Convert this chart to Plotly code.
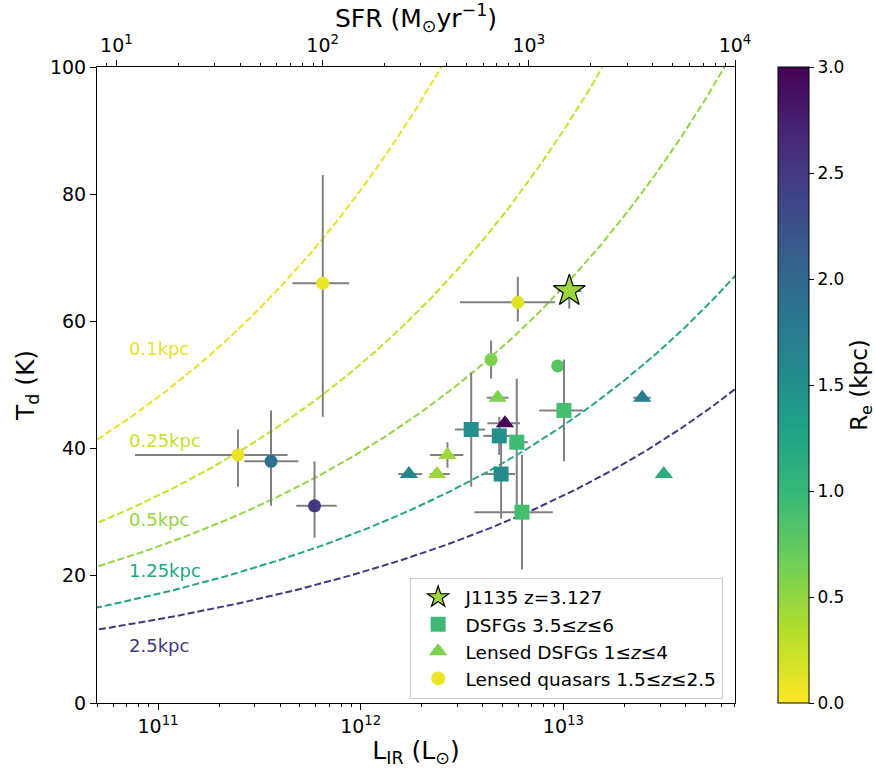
import numpy as np
import plotly.graph_objects as go
from plotly.colors import sample_colorscale

# ---------------- data ----------------
# Lensed quasars (circles)
qso_L = [6.50e11, 2.48e11, 3.61e11, 5.92e11, 5.96e12, 4.40e12, 9.38e12]
qso_L_lo = [4.61e11, 7.7e10, 2.67e11, 4.81e11, 3.09e12, 4.40e12, 9.38e12]
qso_L_hi = [8.77e11, 4.36e11, 4.93e11, 7.62e11, 9.10e12, 4.40e12, 9.38e12]
qso_T = [66, 39, 38, 31, 63, 54, 53]
qso_T_lo = [45, 34, 31, 26, 60, 51, 53]
qso_T_hi = [83, 43, 46, 38, 67, 57, 53]
qso_R = [0.08, 0.08, 1.9, 2.5, 0.15, 0.6, 0.8]

# DSFGs 3.5<=z<=6 (squares)
dsfg_L = [3.51e12, 4.83e12, 4.93e12, 5.89e12, 6.25e12, 1.007e13]
dsfg_L_lo = [2.92e12, 4.03e12, 4.03e12, 5.42e12, 3.64e12, 7.6e12]
dsfg_L_hi = [4.11e12, 5.75e12, 5.78e12, 6.67e12, 8.87e12, 1.25e13]
dsfg_T = [43, 42, 36, 41, 30, 46]
dsfg_T_lo = [34, 39, 29, 31, 21, 38]
dsfg_T_hi = [52, 45, 43, 51, 39, 54]
dsfg_R = [1.5, 1.5, 1.55, 0.95, 0.9, 0.9]

# Lensed DSFGs 1<=z<=4 (triangles)
ldsfg_L = [1.73e12, 2.38e12, 2.68e12, 4.74e12, 5.15e12, 2.45e13, 3.13e13]
ldsfg_L_lo = [1.53e12, 2.20e12, 2.20e12, 4.19e12, 4.22e12, 2.21e13, 2.92e13]
ldsfg_L_hi = [2.01e12, 2.76e12, 3.21e12, 5.36e12, 6.11e12, 2.70e13, 3.36e13]
ldsfg_T = [36, 36, 39, 48, 44, 48, 36]
ldsfg_T_lo = [36, 36, 37, 48, 44, 48, 36]
ldsfg_T_hi = [36, 36, 41, 48, 44, 48, 36]
ldsfg_R = [1.6, 0.45, 0.45, 0.6, 2.95, 1.75, 1.1]

# J1135 (star)
j_L = [1.07e13]
j_L_lo = [9.4e12]
j_L_hi = [1.23e13]
j_T = [64.8]
j_T_lo = [62.0]
j_T_hi = [67.3]
j_R = [0.45]

# legend
legend_names = ["J1135 z=3.127", "DSFGs 3.5≤<i>z</i>≤6",
                "Lensed DSFGs 1≤<i>z</i>≤4", "Lensed quasars 1.5≤<i>z</i>≤2.5"]
legend_R = [0.45, 0.95, 0.6, 0.08]

# model curves (constant size)
curve_R = [0.1, 0.25, 0.5, 1.25, 2.5]
curve_labels = ["0.1kpc", "0.25kpc", "0.5kpc", "1.25kpc", "2.5kpc"]
label_T = [55.8, 41.2, 28.9, 20.8, 9.0]
label_L = 7.05e10

# greybody model parameters
beta = 1.5
nu0 = 3.0e12
L_ref, R_ref, T_ref = 5.0e10, 0.1, 41.4

x_range = [np.log10(5.0e10), np.log10(7.03e13)]
x2_range = [np.log10(8.05), 4.0]

cscale = "Viridis"
rmin, rmax = 0.0, 3.0


def rcolor(r):
    return sample_colorscale(cscale, [1 - (r - rmin) / (rmax - rmin)])[0]


def greybody_I(T):
    nu = np.logspace(10, 15, 4000)
    hk = 4.799243e-11
    tau = (nu / nu0) ** beta
    T = np.atleast_1d(T)[:, None]
    x = np.clip(hk * nu[None, :] / T, 1e-8, 700)
    integrand = (1 - np.exp(-tau[None, :])) * nu[None, :] ** 3 / np.expm1(x)
    return np.trapezoid(integrand, nu, axis=1)


FONT = "DejaVu Sans"
fig = go.Figure()

T_grid = np.linspace(5, 130, 600)
I_grid = greybody_I(T_grid)
I_ref = greybody_I(T_ref)[0]
for R, lab, lt in zip(curve_R, curve_labels, label_T):
    col = rcolor(R)
    Lc = L_ref * (R / R_ref) ** 2 * I_grid / I_ref
    fig.add_trace(go.Scatter(x=Lc, y=T_grid, mode="lines",
                             line=dict(color=col, width=2, dash="7px,3px"),
                             showlegend=False, hoverinfo="skip"))
    fig.add_annotation(x=np.log10(label_L), y=lt, text=lab, showarrow=False,
                       xanchor="left", yanchor="middle",
                       font=dict(family=FONT, size=18, color=col))


def add_series(L, Llo, Lhi, T, Tlo, Thi, R, symbol, size, line=None):
    L = np.array(L); T = np.array(T)
    fig.add_trace(go.Scatter(
        x=L, y=T, mode="markers",
        marker=dict(symbol=symbol, size=size, color=R, coloraxis="coloraxis",
                    line=line or dict(width=0)),
        error_x=dict(type="data", symmetric=False, array=np.array(Lhi) - L,
                     arrayminus=L - np.array(Llo), color="#808080", thickness=2, width=0),
        error_y=dict(type="data", symmetric=False, array=np.array(Thi) - T,
                     arrayminus=T - np.array(Tlo), color="#808080", thickness=2, width=0),
        showlegend=False, hoverinfo="skip"))


add_series(qso_L, qso_L_lo, qso_L_hi, qso_T, qso_T_lo, qso_T_hi, qso_R, "circle", 13)
add_series(dsfg_L, dsfg_L_lo, dsfg_L_hi, dsfg_T, dsfg_T_lo, dsfg_T_hi, dsfg_R, "square", 15)
add_series(ldsfg_L, ldsfg_L_lo, ldsfg_L_hi, ldsfg_T, ldsfg_T_lo, ldsfg_T_hi, ldsfg_R, "triangle-up", 16)
add_series(j_L, j_L_lo, j_L_hi, j_T, j_T_lo, j_T_hi, j_R, "star", 24, line=dict(color="black", width=1.2))

# legend entries
leg_sym = ["star", "square", "triangle-up", "circle"]
leg_size = [23, 15, 16, 14]
leg_line = [dict(color="black", width=1.2), dict(width=0), dict(width=0), dict(width=0)]
for name, sym, r, sz, ln in zip(legend_names, leg_sym, legend_R, leg_size, leg_line):
    fig.add_trace(go.Scatter(x=[None], y=[None], mode="markers", name=name, legendgroup=name,
                             marker=dict(symbol=sym, size=sz, color=rcolor(r), line=ln)))

# invisible trace for top axis
fig.add_trace(go.Scatter(x=[10 ** x2_range[0], 10 ** x2_range[1]], y=[None, None],
                         xaxis="x2", mode="markers", showlegend=False, hoverinfo="skip"))

maj_b = [1e11, 1e12, 1e13]
min_b = [m * 10 ** e for e in range(10, 14) for m in range(2, 10)
         if x_range[0] <= np.log10(m * 10 ** e) <= x_range[1]]
maj_t = [1e1, 1e2, 1e3, 1e4]
min_t = [m * 10 ** e for e in range(0, 4) for m in range(2, 10)
         if x2_range[0] <= np.log10(m * 10 ** e) <= x2_range[1]]

tickfont = dict(family=FONT, size=19, color="black")
titlefont = dict(family=FONT, size=25, color="black")

fig.update_layout(
    width=876, height=768,
    margin=dict(l=97, r=141, t=67, b=65, autoexpand=False),
    paper_bgcolor="white", plot_bgcolor="white",
    font=dict(family=FONT, color="black"),
    xaxis=dict(type="log", range=x_range, showline=True, linecolor="black", linewidth=1,
               ticks="outside", ticklen=6, tickcolor="black", showgrid=False, zeroline=False,
               tickvals=maj_b, ticktext=["10<sup>11</sup>", "10<sup>12</sup>", "10<sup>13</sup>"],
               minor=dict(tickvals=min_b, ticks="outside", ticklen=3, tickcolor="black", showgrid=False),
               tickfont=tickfont,
               title=dict(text="L<sub>IR</sub> (L<sub>⊙</sub>)", font=titlefont, standoff=4)),
    xaxis2=dict(type="log", range=x2_range, overlaying="x", side="top", anchor="y",
                showline=True, linecolor="black", linewidth=1,
                ticks="outside", ticklen=6, tickcolor="black", showgrid=False, zeroline=False,
                tickvals=maj_t, ticktext=["10<sup>1</sup>", "10<sup>2</sup>", "10<sup>3</sup>", "10<sup>4</sup>"],
                minor=dict(tickvals=min_t, ticks="outside", ticklen=3, tickcolor="black", showgrid=False),
                tickfont=tickfont,
                title=dict(text="SFR (M<sub>⊙</sub>yr<sup>−1</sup>)", font=titlefont, standoff=2)),
    yaxis=dict(range=[0, 100], showline=True, mirror=True, linecolor="black", linewidth=1,
               ticks="outside", ticklen=6, tickcolor="black", showgrid=False, zeroline=False,
               tickvals=[0, 20, 40, 60, 80, 100], tickfont=tickfont,
               title=dict(text="T<sub>d</sub> (K)", font=titlefont, standoff=8)),
    coloraxis=dict(colorscale=cscale, reversescale=True, cmin=rmin, cmax=rmax,
                   colorbar=dict(x=1.067, xanchor="left", xpad=0, ypad=0, y=0.5, yanchor="middle",
                                 len=1, lenmode="fraction", thickness=31, thicknessmode="pixels",
                                 outlinewidth=1, outlinecolor="black",
                                 ticks="outside", ticklen=5, tickcolor="black",
                                 tickvals=[0, 0.5, 1, 1.5, 2, 2.5, 3],
                                 ticktext=["0.0", "0.5", "1.0", "1.5", "2.0", "2.5", "3.0"],
                                 tickfont=dict(family=FONT, size=17, color="black"),
                                 title=dict(text="R<sub>e</sub> (kpc)", side="right",
                                            font=dict(family=FONT, size=23, color="black")))),
    legend=dict(x=0.49, y=0.197, xanchor="left", yanchor="top",
                bgcolor="rgba(255,255,255,0.9)", bordercolor="#cccccc", borderwidth=1,
                font=dict(family=FONT, size=18.5, color="black"), itemsizing="trace",
                itemwidth=45, tracegroupgap=0),
)

fig.write_html("out.html")
